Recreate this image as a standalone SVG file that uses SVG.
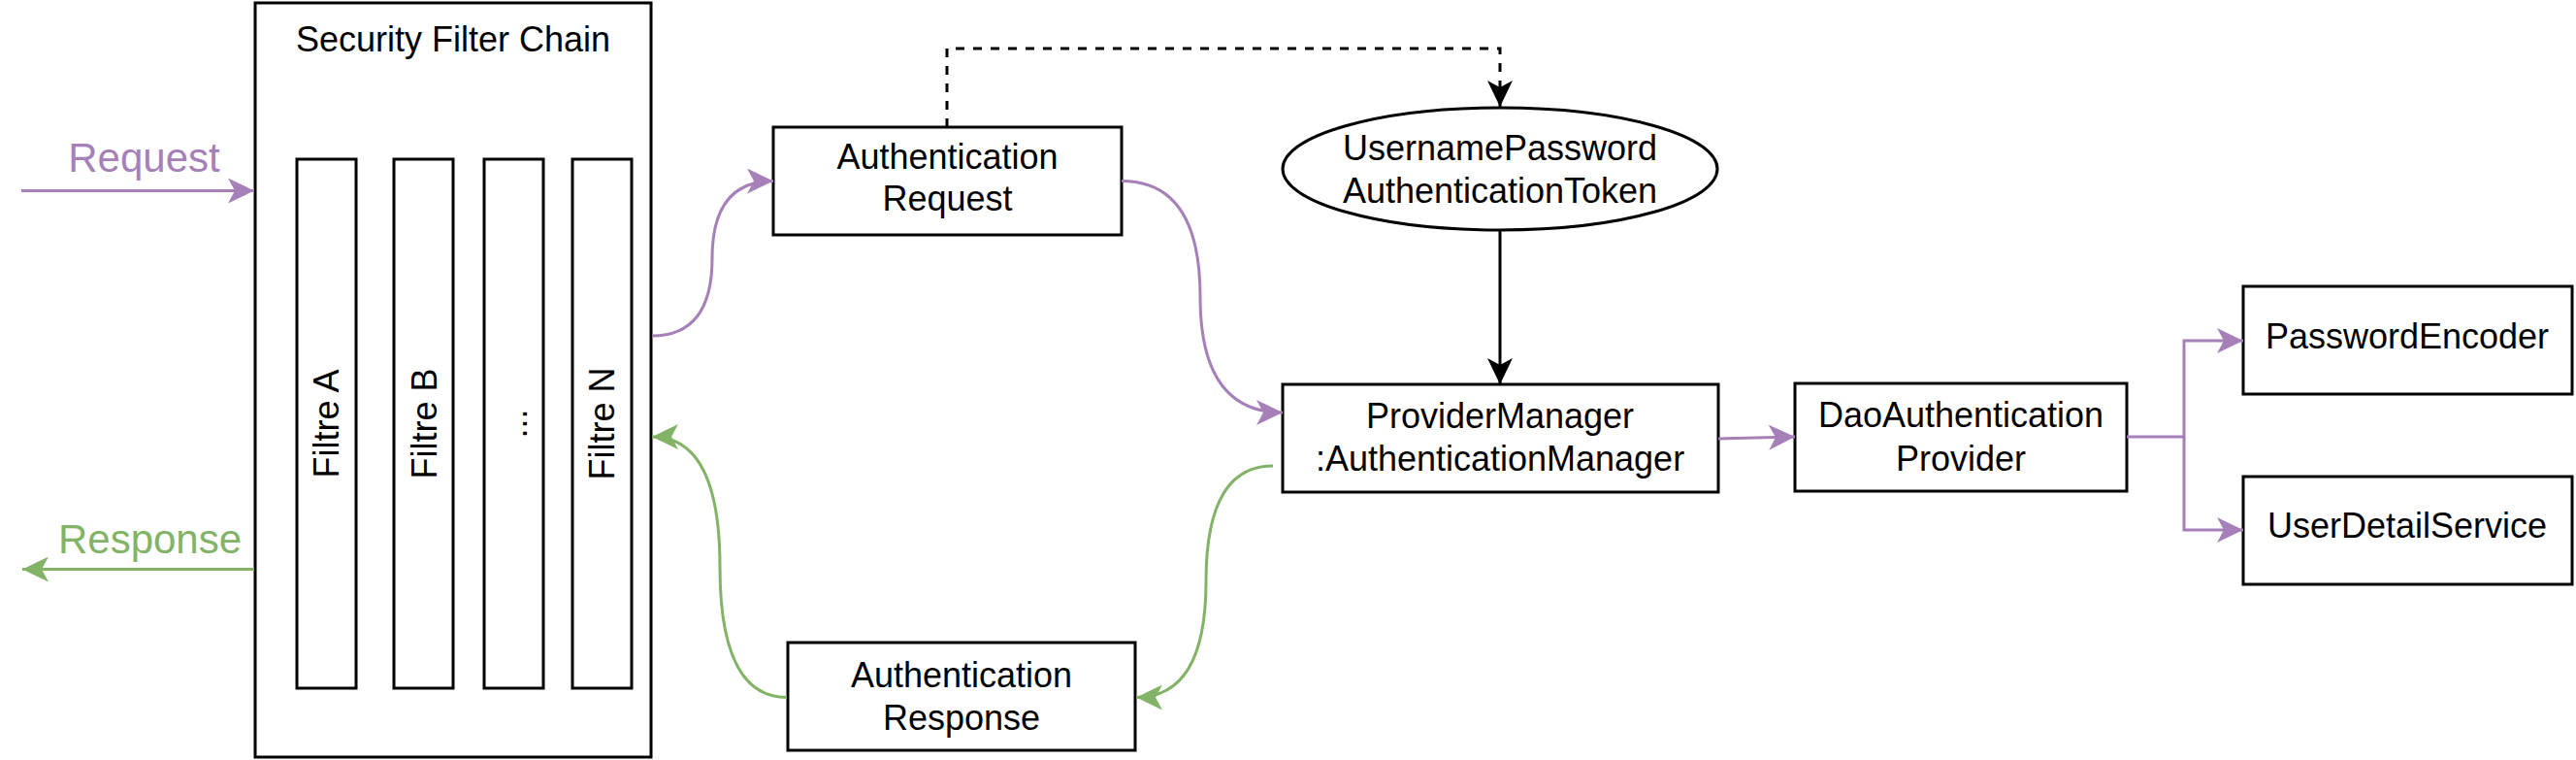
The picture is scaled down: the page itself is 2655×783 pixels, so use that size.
<svg xmlns="http://www.w3.org/2000/svg" width="2655" height="783" viewBox="0 0 2655 783">
<style>
.box{fill:#ffffff;stroke:#000000;stroke-width:3}
.t{font-family:"Liberation Sans",Arial,Helvetica,sans-serif;font-size:36px;fill:#000000;text-anchor:middle}
.big{font-family:"Liberation Sans",Arial,Helvetica,sans-serif;font-size:42px;text-anchor:middle}
.pl{fill:none;stroke:#a680b8;stroke-width:3}
.gl{fill:none;stroke:#82b366;stroke-width:3}
.bl{fill:none;stroke:#000000;stroke-width:3}
</style>
<defs>
<marker id="ap" markerUnits="userSpaceOnUse" viewBox="0 0 28 26" markerWidth="28" markerHeight="26" refX="27" refY="13" orient="auto"><path d="M27,13 L0,0 L7,13 L0,26 Z" fill="#a680b8"/></marker>
<marker id="ag" markerUnits="userSpaceOnUse" viewBox="0 0 28 26" markerWidth="28" markerHeight="26" refX="27" refY="13" orient="auto"><path d="M27,13 L0,0 L7,13 L0,26 Z" fill="#82b366"/></marker>
<marker id="ab" markerUnits="userSpaceOnUse" viewBox="0 0 28 26" markerWidth="28" markerHeight="26" refX="27" refY="13" orient="auto"><path d="M27,13 L0,0 L7,13 L0,26 Z" fill="#000000"/></marker>
</defs>
<rect width="2655" height="783" fill="#ffffff"/>

<g id="security-filter-chain">
<rect class="box" x="263" y="3" width="408" height="777"/>
<text class="t" x="467" y="53">Security Filter Chain</text>
</g>
<g id="filtre-a">
<rect class="box" x="306" y="164" width="61" height="545"/>
<text class="t" transform="translate(336.5,436.5) rotate(-90)" y="12.6">Filtre A</text>
</g>
<g id="filtre-b">
<rect class="box" x="406" y="164" width="61" height="545"/>
<text class="t" transform="translate(437,436.5) rotate(-90)" y="12.6">Filtre B</text>
</g>
<g id="filtre-dots">
<rect class="box" x="499" y="164" width="61" height="545"/>
<text class="t" transform="translate(530,436.5) rotate(-90)" y="12.6">...</text>
</g>
<g id="filtre-n">
<rect class="box" x="590" y="164" width="61" height="545"/>
<text class="t" transform="translate(620.5,436.5) rotate(-90)" y="12.6">Filtre N</text>
</g>

<g id="authentication-request">
<rect class="box" x="797" y="131" width="359" height="111"/>
<text class="t" x="976.5" y="174">Authentication</text>
<text class="t" x="976.5" y="217">Request</text>
</g>
<g id="username-password-token">
<ellipse class="box" cx="1546" cy="174" rx="224" ry="63"/>
<text class="t" x="1546" y="165">UsernamePassword</text>
<text class="t" x="1546" y="209">AuthenticationToken</text>
</g>
<g id="provider-manager">
<rect class="box" x="1322" y="396" width="449" height="111"/>
<text class="t" x="1546" y="441">ProviderManager</text>
<text class="t" x="1546" y="485">:AuthenticationManager</text>
</g>
<g id="authentication-response">
<rect class="box" x="812" y="662" width="358" height="111"/>
<text class="t" x="991" y="708">Authentication</text>
<text class="t" x="991" y="752">Response</text>
</g>
<g id="dao-authentication-provider">
<rect class="box" x="1850" y="395" width="342" height="111"/>
<text class="t" x="2021" y="440">DaoAuthentication</text>
<text class="t" x="2021" y="485">Provider</text>
</g>
<g id="password-encoder">
<rect class="box" x="2312" y="295" width="339" height="111"/>
<text class="t" x="2481" y="359">PasswordEncoder</text>
</g>
<g id="user-detail-service">
<rect class="box" x="2312" y="491" width="339" height="111"/>
<text class="t" x="2481" y="554">UserDetailService</text>
</g>

<g id="labels">
<text class="big" x="148.5" y="177" fill="#a680b8">Request</text>
<text class="big" x="154.5" y="570" fill="#82b366">Response</text>
</g>

<g id="connectors">
<path class="pl" d="M22,196.5 L262,196.5" marker-end="url(#ap)"/>
<path class="gl" d="M262,586.5 L23,586.5" marker-end="url(#ag)"/>
<path class="pl" d="M672,346 Q734,346 734,266 Q734,186.5 797,186.5" marker-end="url(#ap)"/>
<path class="pl" d="M1156,186.5 Q1237,186.5 1237,306 Q1237,425 1322,425" marker-end="url(#ap)"/>
<path class="gl" d="M1312,480 Q1243,480 1243,599 Q1243,718.5 1171,718.5" marker-end="url(#ag)"/>
<path class="gl" d="M811,718.5 Q742,718.5 742,584 Q742,450 672,450" marker-end="url(#ag)"/>
<path class="bl" d="M976,131 L976,50 L1546,50 L1546,110" stroke-dasharray="9 9" marker-end="url(#ab)"/>
<path class="bl" d="M1546,237 L1546,396" marker-end="url(#ab)"/>
<path class="pl" d="M1771,452 L1850,450" marker-end="url(#ap)"/>
<path class="pl" d="M2192,450 L2251,450 L2251,351 L2312,351" marker-end="url(#ap)"/>
<path class="pl" d="M2251,450 L2251,546 L2312,546" marker-end="url(#ap)"/>
</g>
</svg>
